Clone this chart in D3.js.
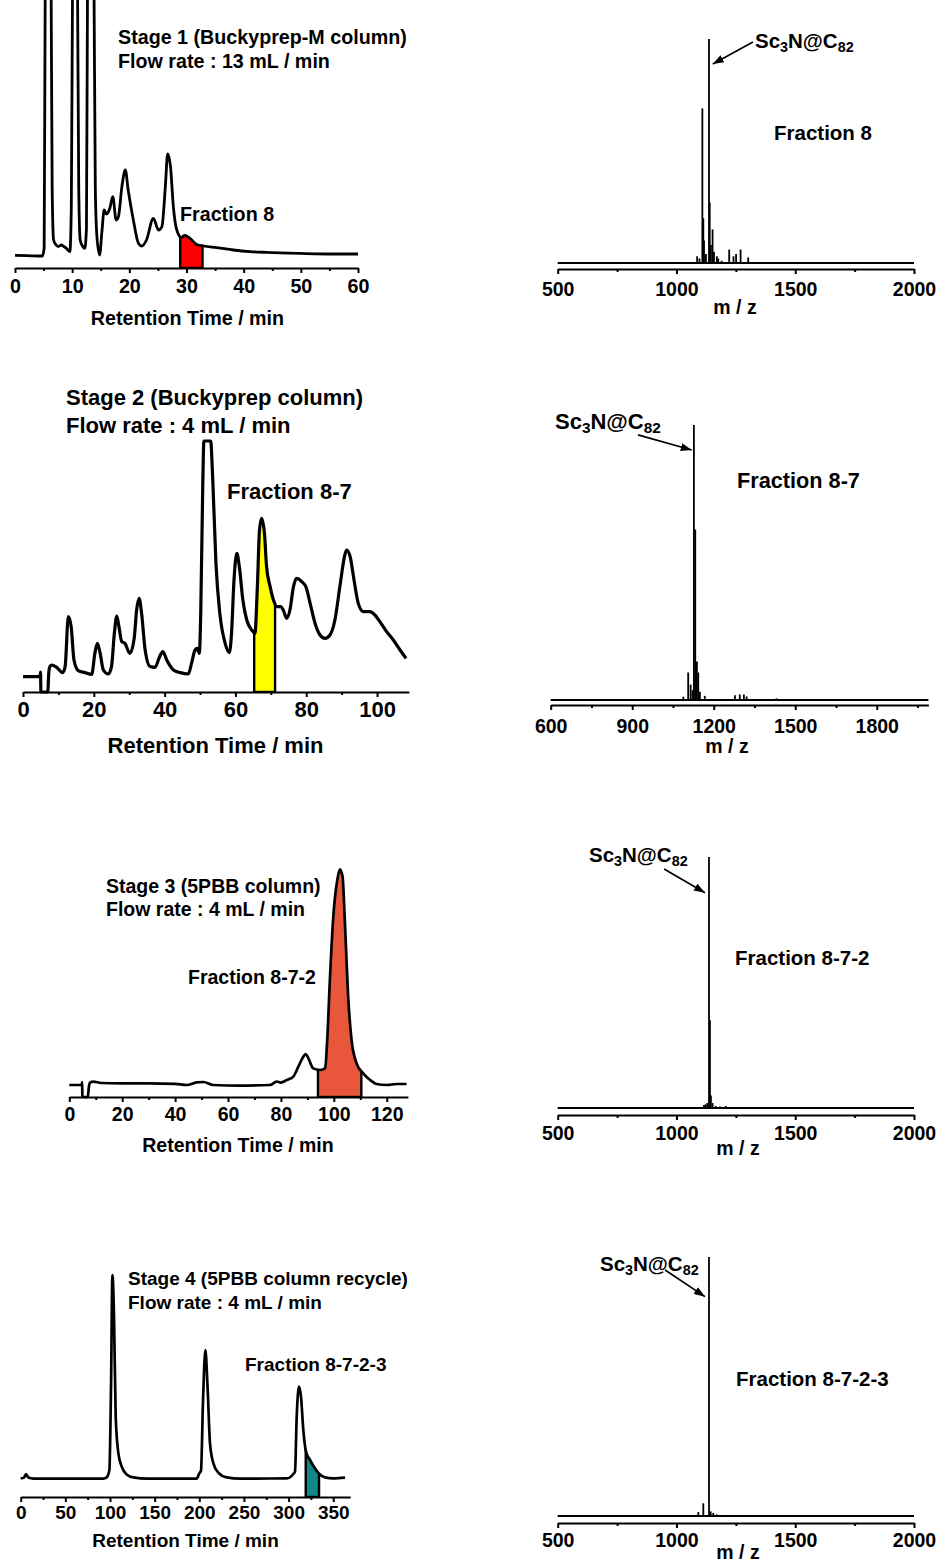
<!DOCTYPE html>
<html>
<head>
<meta charset="utf-8">
<script src="https://cdn.jsdelivr.net/npm/d3@7"></script>
<style>
  body { margin: 0; background: #fff; }
  svg { display: block; font-family: "Liberation Sans", Arial, sans-serif; font-weight: bold; }
</style>
</head>
<body>
<svg id="fig" width="941" height="1562"></svg>
<script>
// ---- HPLC traces: [retention time (min), detector signal (a.u.)] ----
const stage1 = [[0,6.3],[2,6.2],[4.8,6.0],[5.1,10],[5.3,150],[5.8,230],[6.3,150],[6.5,40],[6.75,14],[7.2,11.5],[7.6,10.7],[8.1,11.5],[8.5,10.8],[9.0,9.8],[9.6,8.2],[9.85,30],[10.1,160],[10.5,230],[10.9,160],[11.15,40],[11.4,14],[11.8,11],[12.2,9.8],[12.5,20],[12.7,150],[13.3,230],[13.8,150],[14.05,40],[14.3,17],[14.8,6.5],[15.2,18],[15.6,29],[16.0,27],[16.6,30],[17.1,35.7],[17.7,24],[18.1,25.7],[18.7,40.7],[19.3,49],[19.8,39],[20.7,24],[21.6,12.3],[22.2,11],[23.0,14],[24.2,24.8],[25.1,19],[25.7,20.7],[26.3,40.7],[26.7,57],[27.2,50.7],[27.7,30.7],[28.3,19],[29.1,15.3],[29.7,16.3],[30.6,14.8],[31.8,11.8],[33,11],[35.3,10.2],[38.2,9],[41.1,8.2],[44,7.8],[49.9,7.3],[55.7,7],[60,7]];

const stage2 = [[0,7.7],[4.8,7.7],[4.95,10],[5.05,0.5],[5.2,0],[7.0,0],[7.3,10],[7.6,12.7],[8.1,13.5],[9.5,12.3],[11.2,9.7],[11.9,12.7],[12.8,37.7],[13.6,32.7],[14.4,16],[15.6,10.7],[17.5,9.7],[19.4,8.8],[20.3,19.3],[21.0,24.3],[21.8,19.3],[22.7,11],[24.1,9],[25.0,12.7],[25.8,29.3],[26.5,38],[27.1,32.7],[27.9,25.2],[28.8,24.3],[30.2,19.3],[31.4,26.8],[32.1,41],[32.8,46.8],[33.5,39.3],[34.5,21],[35.9,12.7],[37.3,12.3],[38.5,17.3],[39.5,20.2],[40.6,16],[42.5,11],[44.4,9.7],[46.7,9],[47.6,14.3],[48.6,21],[49.2,21.8],[49.8,19.3],[50.2,39.3],[50.8,106],[51.1,125.5],[53.0,125.5],[53.6,106],[54.5,64.3],[55.6,39.3],[57.1,24.3],[58.3,19.7],[58.9,29.3],[59.6,56],[60.4,69.3],[61.1,62.7],[62.1,46],[63.2,36],[64.6,31],[65.5,29.3],[66.2,52.7],[66.8,81],[67.4,86.8],[68.2,79.3],[68.8,62.7],[69.8,52.7],[70.9,45.2],[71.8,42.7],[72.8,42.7],[73.5,41],[74.5,36.8],[75.4,41],[76.4,52.7],[77.3,56.8],[78.7,55.2],[79.9,52.7],[81.1,44.3],[82.5,34.3],[83.9,28.5],[85.3,26.8],[86.7,28.5],[88.1,36],[89.5,52.7],[90.9,68.5],[91.4,71],[92.4,67.7],[93.5,56],[94.7,44.3],[96.1,40.2],[98,40.2],[99.4,38.5],[100.8,35.2],[102.7,30.2],[104.6,26],[106.5,21],[108.2,16.8]];

const stage3 = [[0,6],[4.7,6],[4.85,7.5],[4.95,0.5],[5.1,0],[7.0,0],[7.4,5],[7.8,7.2],[9.1,7.7],[12,7],[20,6.8],[30,6.8],[40,6.6],[44.4,6],[48.1,7.3],[50.7,7.5],[54.4,6],[64.5,5.7],[75.9,6],[78.4,7.7],[79.9,7.2],[82.2,8.5],[84.7,10.2],[86.6,15.2],[88.5,20.2],[89.4,21.5],[90.4,19.3],[92.2,14.3],[94.8,13.5],[96.7,14.3],[97.5,28.5],[98.5,58.5],[99.8,90.2],[101.3,108.5],[102.3,113.8],[103.3,110.2],[104.2,86.8],[105.5,48.5],[106.7,28.5],[108.6,16.8],[111.1,11.8],[113.7,8.5],[116.2,6.5],[120,6],[123.8,6.5],[127.5,6.5]];

const stage4 = [[0,9.3],[3.7,9.7],[6,11.5],[8.6,9.7],[14.2,9.2],[50,9.2],[92.6,9.2],[96.3,9.8],[99.3,13.5],[101.2,56.8],[102.7,111],[104.5,90],[106.4,40],[109.4,21.8],[113.1,15.2],[118.7,11.3],[126.2,9.8],[141.1,9.2],[197,9.2],[200,11.8],[201.9,13.2],[204.2,48.5],[206.8,73.5],[209.4,53.5],[212,26.8],[215.8,16.8],[221.3,12.2],[230.7,9.8],[245.6,9.2],[297.9,9.3],[305.3,11.5],[307.2,12.7],[309.1,40.2],[311.7,55.2],[313.9,50.2],[316.5,33.5],[319.5,22.7],[324,18.5],[329.6,14.3],[334.5,11.5],[340.8,9.8],[350.1,9.3],[363.2,9.7]];

// collected fraction windows (min)
const cuts = [[28.9, 32.8], [65.3, 71.2], [94.0, 110.4], [319.2, 334.1]];

// ---- mass spectra: [m/z, relative intensity %] ----
const ms1 = [[1087,3],[1097,2],[1109,69],[1113,20],[1116,10],[1124,4],[1137,100],[1140,27],[1145,8],[1152,15],[1158,5],[1170,3],[1176,2],[1190,1],[1222,6],[1240,3],[1251,4],[1270,6],[1302,2.5]];
const ms2 = [[1088,1.2],[1106,10],[1115,5.6],[1122,3.6],[1127,100],[1132,62],[1138,14],[1143,10],[1149,3],[1167,1.5],[1278,1.7],[1296,2],[1311,2],[1321,1.3],[1431,0.6]];
const ms3 = [[1116,1.2],[1123,1.5],[1130,2],[1137,100],[1141,35],[1145,5],[1152,2],[1165,0.8],[1183,0.6],[1208,0.8]];
const ms4 = [[1092,1.5],[1113,4.9],[1137,100],[1144,1.8],[1155,1.2],[1170,0.6],[1190,0.4]];

// arrow [tail, tip] in (m/z, %) for the Sc3N@C82 label
const arrows = [[[1322,98.7],[1153,88.8]], [[921,96.4],[1119,90.9]], [[948,95.2],[1120,85.8]], [[952,95],[1120,84.7]]];

const stageTitles = [
  ["Stage 1 (Buckyprep-M column)", "Flow rate : 13 mL / min"],
  ["Stage 2 (Buckyprep column)", "Flow rate : 4 mL / min"],
  ["Stage 3 (5PBB column)", "Flow rate : 4 mL / min"],
  ["Stage 4 (5PBB column recycle)", "Flow rate : 4 mL / min"]
];
const fractions = ["Fraction 8", "Fraction 8-7", "Fraction 8-7-2", "Fraction 8-7-2-3"];

const FONT = '"Liberation Sans", Arial, sans-serif';
const svg = d3.select("#fig");

const defs = svg.append("defs");
defs.append("marker")
    .attr("id", "arrowhead")
    .attr("viewBox", "0 0 11 8")
    .attr("refX", 11).attr("refY", 4)
    .attr("markerUnits", "userSpaceOnUse")
    .attr("markerWidth", 11).attr("markerHeight", 8)
    .attr("orient", "auto")
  .append("path")
    .attr("d", "M0,0 L11,4 L0,8 Z")
    .attr("fill", "#000");

function drawAxis(g, x, axisY, major, minor, fs, labelDy) {
    const [d0, d1] = x.domain();
    const majors = d3.range(d0, d1 + 1e-9, major);
    const minors = d3.range(d0, d1 + 1e-9, minor).filter(v => !majors.includes(v));

    const axG = g.append("g")
        .attr("transform", `translate(0,${axisY})`)
        .call(d3.axisBottom(x).tickValues(majors).tickSize(5).tickSizeOuter(0).tickFormat(d3.format("d")))
        .attr("font-size", fs).attr("font-family", FONT);
    axG.select(".domain").attr("stroke-width", 2.2);
    axG.selectAll(".tick line").attr("stroke-width", 2);
    axG.selectAll(".tick text")
        .attr("y", labelDy).attr("dy", null)
        .attr("fill", "#000").attr("font-weight", "bold");

    const mnG = g.append("g")
        .attr("transform", `translate(0,${axisY})`)
        .call(d3.axisBottom(x).tickValues(minors).tickSize(3).tickSizeOuter(0).tickFormat(""));
    mnG.select(".domain").remove();
    mnG.selectAll(".tick line").attr("stroke-width", 2);
}

function label(g, str, x, y, fs, anchor) {
    g.append("text")
        .attr("x", x).attr("y", y)
        .attr("font-size", fs)
        .attr("text-anchor", anchor || "start")
        .text(str);
}

function drawHplc(o) {
    const g = svg.append("g");
    const x = d3.scaleLinear().domain(o.domain).range(o.xr);
    const y = d3.scaleLinear().domain([0, o.yMax]).range([o.axisY, o.yTop]);

    const line = d3.line().x(d => x(d[0])).y(d => y(d[1])).curve(d3.curveMonotoneX);
    const area = d3.area().x(d => x(d[0])).y0(y(0)).y1(d => y(d[1])).curve(d3.curveMonotoneX);

    // shaded fraction = window rectangle clipped by the area under the trace
    const clipId = "under" + o.id;
    defs.append("clipPath").attr("id", clipId)
      .append("path").attr("d", area(o.data));
    g.append("rect")
        .attr("x", x(o.cut[0]))
        .attr("width", x(o.cut[1]) - x(o.cut[0]))
        .attr("y", -10)
        .attr("height", o.axisY + 10)
        .attr("fill", o.cutColor)
        .attr("stroke", "#000")
        .attr("stroke-width", 2.4)
        .attr("clip-path", `url(#${clipId})`);

    g.append("path")
        .datum(o.data)
        .attr("fill", "none")
        .attr("stroke", "#000")
        .attr("stroke-width", o.lw)
        .attr("stroke-linejoin", "round")
        .attr("d", line);

    drawAxis(g, x, o.axisY, o.major, o.minor, o.fs, o.labelDy);

    o.title.forEach((t, i) => label(g, t, o.titleX, o.titleY[i], o.fs));
    label(g, o.frac, o.fracX, o.fracY, o.fs);
    label(g, "Retention Time / min", o.axTitleX, o.axTitleY, o.fs, "middle");
}

function drawMs(o) {
    const g = svg.append("g");
    const x = d3.scaleLinear().domain(o.domain).range(o.xr);
    const y = d3.scaleLinear().domain([0, 100]).range([o.baseY, o.topY]);

    // spectrum baseline
    g.append("line")
        .attr("x1", x(o.domain[0])).attr("x2", x(o.domain[1]))
        .attr("y1", y(0)).attr("y2", y(0))
        .attr("stroke", "#000").attr("stroke-width", 1.8);

    g.selectAll("line.peak")
        .data(o.peaks)
        .join("line")
        .attr("class", "peak")
        .attr("x1", d => x(d[0])).attr("x2", d => x(d[0]))
        .attr("y1", y(0)).attr("y2", d => y(d[1]))
        .attr("stroke", "#000").attr("stroke-width", 1.8);

    drawAxis(g, x, o.axisY, o.major, o.minor, o.fs, o.labelDy);

    const [tail, tip] = o.arrow;
    g.append("line")
        .attr("x1", x(tail[0])).attr("y1", y(tail[1]))
        .attr("x2", x(tip[0])).attr("y2", y(tip[1]))
        .attr("stroke", "#000").attr("stroke-width", 1.7)
        .attr("marker-end", "url(#arrowhead)");

    const t = g.append("text")
        .attr("x", o.lblX).attr("y", o.lblY)
        .attr("font-size", o.lblFs);
    t.append("tspan").text("Sc");
    t.append("tspan").attr("font-size", o.lblFs * 0.7).attr("dy", 4).text("3");
    t.append("tspan").attr("dy", -4).text("N@C");
    t.append("tspan").attr("font-size", o.lblFs * 0.7).attr("dy", 4).text("82");

    label(g, o.frac, o.fracX, o.fracY, o.fracFs);
    label(g, "m / z", o.mzX, o.mzY, o.fs, "middle");
}

// ---- left column: HPLC chromatograms ----
drawHplc({ id: 1, data: stage1, domain: [0, 60], xr: [15, 358], axisY: 268, yMax: 134, yTop: 0,
    major: 10, minor: 5, cut: cuts[0], cutColor: "#ff0000", lw: 2.8, fs: 19.7, labelDy: 25,
    title: stageTitles[0], titleX: 118, titleY: [44, 68], frac: fractions[0], fracX: 180, fracY: 221,
    axTitleX: 187.5, axTitleY: 325 });

drawHplc({ id: 2, data: stage2, domain: [0, 109], xr: [23, 408.9], axisY: 692, yMax: 125.5, yTop: 441,
    major: 20, minor: 10, cut: cuts[1], cutColor: "#ffff00", lw: 3.2, fs: 22, labelDy: 25,
    title: stageTitles[1], titleX: 66, titleY: [405, 433], frac: fractions[1], fracX: 227, fracY: 499,
    axTitleX: 215.5, axTitleY: 753 });

drawHplc({ id: 3, data: stage3, domain: [0, 128], xr: [69.3, 407.9], axisY: 1097, yMax: 114, yTop: 869,
    major: 20, minor: 10, cut: cuts[2], cutColor: "#e8573c", lw: 2.7, fs: 19.5, labelDy: 24,
    title: stageTitles[2], titleX: 106, titleY: [893, 916], frac: fractions[2], fracX: 188, fracY: 984,
    axTitleX: 238, axTitleY: 1152 });

drawHplc({ id: 4, data: stage4, domain: [0, 369], xr: [20.7, 350.2], axisY: 1497, yMax: 111, yTop: 1275,
    major: 50, minor: 25, cut: cuts[3], cutColor: "#0f8a88", lw: 2.7, fs: 19, labelDy: 22,
    title: stageTitles[3], titleX: 128, titleY: [1285, 1309], frac: fractions[3], fracX: 245, fracY: 1371,
    axTitleX: 185.5, axTitleY: 1547 });

// ---- right column: mass spectra ----
drawMs({ peaks: ms1, domain: [500, 2000], xr: [557.7, 914], baseY: 263, topY: 39, axisY: 269,
    major: 500, minor: 250, fs: 19.5, labelDy: 27, arrow: arrows[0],
    lblX: 755, lblY: 48, lblFs: 20.5, frac: fractions[0], fracX: 774, fracY: 140, fracFs: 20.5,
    mzX: 735, mzY: 314 });

drawMs({ peaks: ms2, domain: [600, 1990], xr: [550.7, 928.4], baseY: 700, topY: 425, axisY: 705,
    major: 300, minor: 150, fs: 19.5, labelDy: 28, arrow: arrows[1],
    lblX: 555, lblY: 429, lblFs: 22, frac: fractions[1], fracX: 737, fracY: 488, fracFs: 21.7,
    mzX: 727, mzY: 753 });

drawMs({ peaks: ms3, domain: [500, 2000], xr: [557.7, 914], baseY: 1108, topY: 857, axisY: 1115,
    major: 500, minor: 250, fs: 19.5, labelDy: 25, arrow: arrows[2],
    lblX: 589, lblY: 862, lblFs: 20.5, frac: fractions[2], fracX: 735, fracY: 965, fracFs: 20.5,
    mzX: 738, mzY: 1155 });

drawMs({ peaks: ms4, domain: [500, 2000], xr: [557.7, 914], baseY: 1516, topY: 1257, axisY: 1523,
    major: 500, minor: 250, fs: 19.5, labelDy: 24, arrow: arrows[3],
    lblX: 600, lblY: 1271, lblFs: 20.5, frac: fractions[3], fracX: 736, fracY: 1386, fracFs: 20.5,
    mzX: 738, mzY: 1559 });
</script>
</body>
</html>
